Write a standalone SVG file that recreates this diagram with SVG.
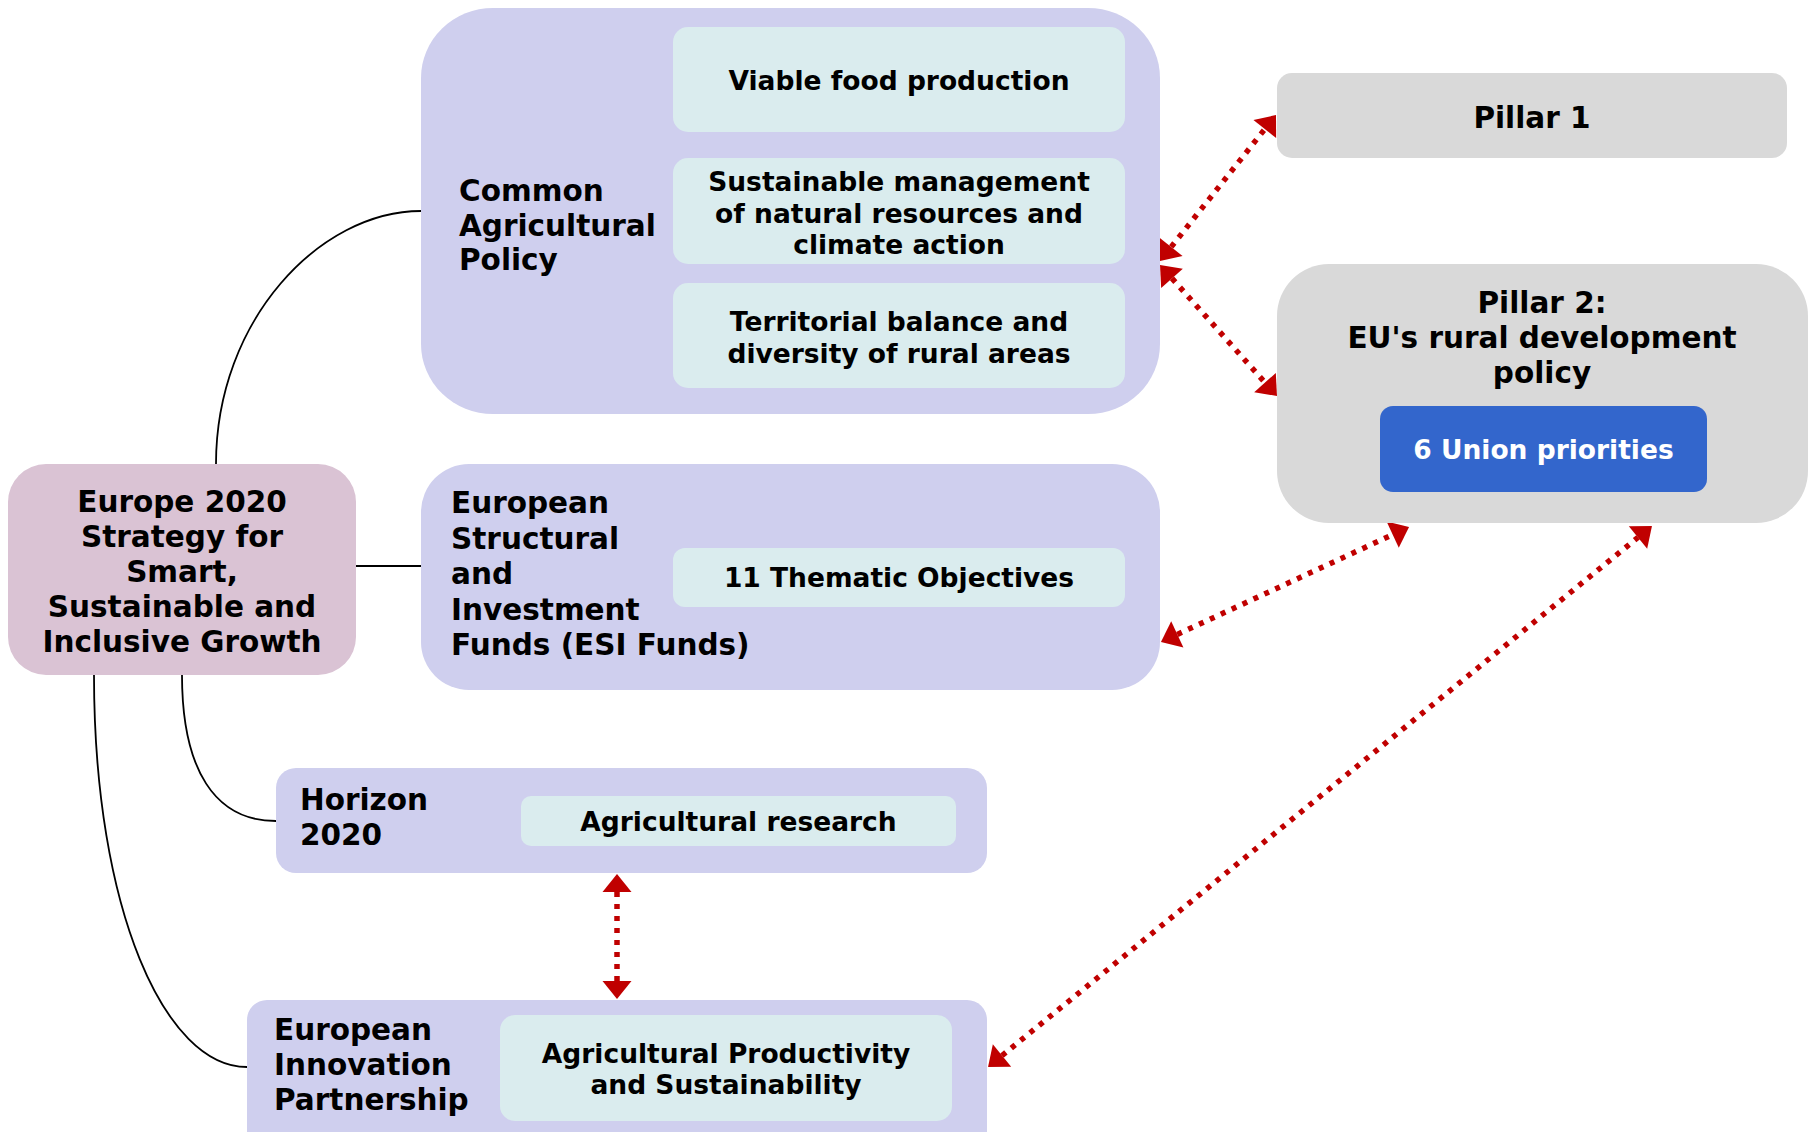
<svg xmlns="http://www.w3.org/2000/svg" width="1814" height="1132" viewBox="0 0 1814 1132">
<style>
.t{font-family:"DejaVu Sans","Verdana",sans-serif;font-weight:bold;fill:#000}
.h{font-size:29.5px}
.i{font-size:26.5px}
.c{text-anchor:middle}
.outer{fill:#CFCFEE}
.inner{fill:#DAECEE}
.grey{fill:#D9D9D9}
.conn{fill:none;stroke:#000;stroke-width:1.8}
.rel{fill:none;stroke:#C00000;stroke-width:5.5;stroke-dasharray:5 7;marker-start:url(#ah);marker-end:url(#ah)}
</style>
<defs>
<marker id="ah" markerUnits="userSpaceOnUse" markerWidth="40" markerHeight="40" refX="0" refY="0" orient="auto-start-reverse" overflow="visible">
<path d="M0,-14.5 L18,0 L0,14.5 Z" fill="#C00000"/>
</marker>
</defs>
<rect width="1814" height="1132" fill="#fff"/>
<g id="connectors">
<path class="conn" d="M216,464 C216,320 320,211 421,211"/>
<path class="conn" d="M356,566 L421,566"/>
<path class="conn" d="M182,675 C182,770 215,821 276,821"/>
<path class="conn" d="M94,675 C94,910 165,1067 247,1067"/>
<path class="rel" d="M1171.2,246.9 L1264.8,129.1"/>
<path class="rel" d="M1172,278.4 L1265,382.6"/>
<path class="rel" d="M1177.3,634.4 L1392.7,534.6"/>
<path class="rel" d="M1002,1055.6 L1638,537.4"/>
<path class="rel" d="M617,892 L617,981"/>
</g>
<g id="cap">
<rect class="outer" x="421" y="8" width="739" height="406" rx="72" ry="70"/>
<text class="t h" x="459" y="201">Common</text>
<text class="t h" x="459" y="235.5">Agricultural</text>
<text class="t h" x="459" y="270">Policy</text>
</g>
<g id="viable">
<rect class="inner" x="673" y="27" width="452" height="105" rx="15"/>
<text class="t i c" x="899" y="89.5">Viable food production</text>
</g>
<g id="sustainable">
<rect class="inner" x="673" y="158" width="452" height="106" rx="15"/>
<text class="t i c" x="899" y="190.5">Sustainable management</text>
<text class="t i c" x="899" y="222.5">of natural resources and</text>
<text class="t i c" x="899" y="254">climate action</text>
</g>
<g id="territorial">
<rect class="inner" x="673" y="283" width="452" height="105" rx="15"/>
<text class="t i c" x="899" y="331">Territorial balance and</text>
<text class="t i c" x="899" y="363">diversity of rural areas</text>
</g>
<g id="pillar1">
<rect class="grey" x="1277" y="73" width="510" height="85" rx="15"/>
<text class="t h c" x="1532" y="128">Pillar 1</text>
</g>
<g id="pillar2">
<rect class="grey" x="1277" y="264" width="531" height="259" rx="52"/>
<text class="t h c" x="1542" y="313">Pillar 2:</text>
<text class="t h c" x="1542" y="348">EU's rural development</text>
<text class="t h c" x="1542" y="383">policy</text>
</g>
<g id="union">
<rect x="1380" y="406" width="327" height="86" rx="13" fill="#3366CC"/>
<text class="t i c" x="1543.5" y="459" style="fill:#fff">6 Union priorities</text>
</g>
<g id="europe2020">
<rect x="8" y="464" width="348" height="211" rx="38" fill="#DAC3D4"/>
<text class="t h c" x="182" y="511.5">Europe 2020</text>
<text class="t h c" x="182" y="546.5">Strategy for</text>
<text class="t h c" x="182" y="581.5">Smart,</text>
<text class="t h c" x="182" y="616.5">Sustainable and</text>
<text class="t h c" x="182" y="651.5">Inclusive Growth</text>
</g>
<g id="esif">
<rect class="outer" x="421" y="464" width="739" height="226" rx="48"/>
<text class="t h" x="451" y="513">European</text>
<text class="t h" x="451" y="548.5">Structural</text>
<text class="t h" x="451" y="584">and</text>
<text class="t h" x="451" y="619.5">Investment</text>
<text class="t h" x="451" y="655">Funds (ESI Funds)</text>
</g>
<g id="thematic">
<rect class="inner" x="673" y="548" width="452" height="59" rx="12"/>
<text class="t i c" x="899" y="587">11 Thematic Objectives</text>
</g>
<g id="horizon">
<rect class="outer" x="276" y="768" width="711" height="105" rx="20"/>
<text class="t h" x="300" y="810">Horizon</text>
<text class="t h" x="300" y="845">2020</text>
</g>
<g id="research">
<rect class="inner" x="521" y="796" width="435" height="50" rx="10"/>
<text class="t i c" x="738.5" y="831">Agricultural research</text>
</g>
<g id="eip">
<rect class="outer" x="247" y="1000" width="740" height="170" rx="20"/>
<text class="t h" x="274" y="1040">European</text>
<text class="t h" x="274" y="1075">Innovation</text>
<text class="t h" x="274" y="1110">Partnership</text>
</g>
<g id="productivity">
<rect class="inner" x="500" y="1015" width="452" height="106" rx="15"/>
<text class="t i c" x="726" y="1062.5">Agricultural Productivity</text>
<text class="t i c" x="726" y="1093.5">and Sustainability</text>
</g>
</svg>
